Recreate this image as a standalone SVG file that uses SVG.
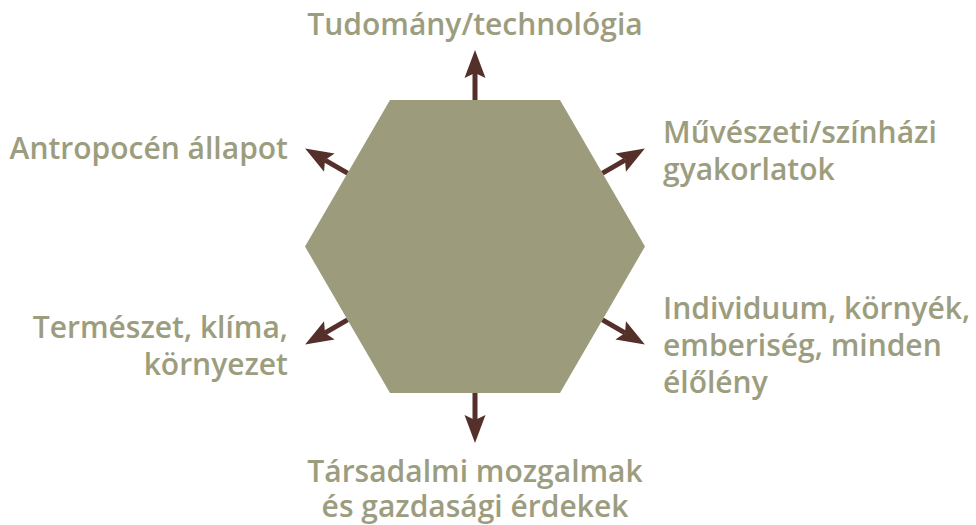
<svg xmlns="http://www.w3.org/2000/svg" width="976" height="525" viewBox="0 0 976 525">
<style>
.lbl{font-family:"Open Sans","Noto Sans","DejaVu Sans",sans-serif;font-weight:600;font-size:30px;fill:#9c9d7e}
.conn{stroke:#552f29;stroke-width:5;fill:none}
</style>
<defs>
<marker id="ah" markerUnits="userSpaceOnUse" markerWidth="30" markerHeight="24" refX="5" refY="10.5" orient="auto" overflow="visible">
<path d="M0,0 L28,10.5 L0,21 L5,10.5 Z" fill="#552f29"/>
</marker>
</defs>
<rect width="976" height="525" fill="#ffffff"/>
<g id="hexagon">
<polygon points="390,100 560,100 645,246.5 560,393 390,393 305,246.5" fill="#9c9c7c"/>
</g>
<g id="connectors">
<line class="conn" x1="475" y1="100" x2="475" y2="73" marker-end="url(#ah)"/>
<line class="conn" x1="475" y1="393" x2="475" y2="420" marker-end="url(#ah)"/>
<line class="conn" x1="602.5" y1="173.2" x2="625" y2="160.1" marker-end="url(#ah)"/>
<line class="conn" x1="347.5" y1="173.2" x2="325" y2="160.1" marker-end="url(#ah)"/>
<line class="conn" x1="602.5" y1="319.8" x2="625" y2="332.9" marker-end="url(#ah)"/>
<line class="conn" x1="347.5" y1="319.8" x2="325" y2="332.9" marker-end="url(#ah)"/>
</g>
<g id="n-top"><text class="lbl" x="475" y="35" text-anchor="middle">Tudomány/technológia</text></g>
<g id="n-upper-left"><text class="lbl" x="288" y="159" text-anchor="end">Antropocén állapot</text></g>
<g id="n-upper-right"><text class="lbl" x="663" y="143" text-anchor="start">Művészeti/színházi<tspan x="663" dy="37">gyakorlatok</tspan></text></g>
<g id="n-lower-left"><text class="lbl" x="288" y="338" text-anchor="end">Természet, klíma,<tspan x="288" dy="37">környezet</tspan></text></g>
<g id="n-lower-right"><text class="lbl" x="663" y="319" text-anchor="start">Individuum, környék,<tspan x="663" dy="37">emberiség, minden</tspan><tspan x="663" dy="37">élőlény</tspan></text></g>
<g id="n-bottom"><text class="lbl" x="475" y="482" text-anchor="middle">Társadalmi mozgalmak<tspan x="475" dy="35">és gazdasági érdekek</tspan></text></g>
</svg>
